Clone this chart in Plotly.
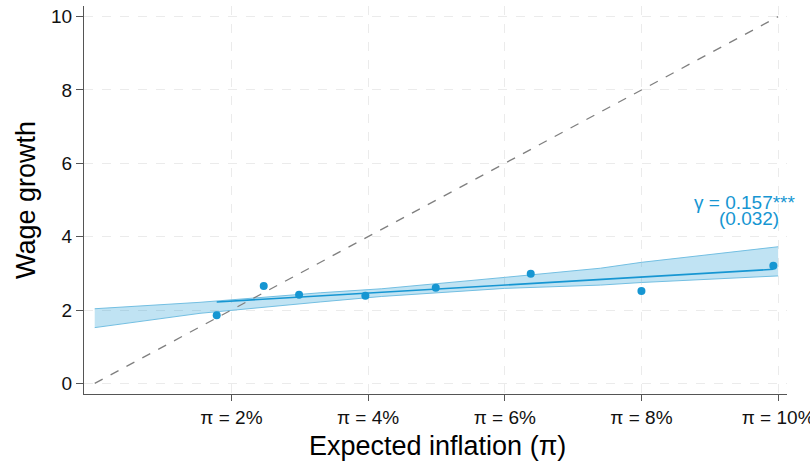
import plotly.graph_objects as go

# Binned scatter points
pts_x = [1.785, 2.473, 2.99, 3.96, 4.99, 6.38, 8.0, 9.93]
pts_y = [1.855, 2.653, 2.416, 2.39, 2.61, 2.99, 2.52, 3.21]

# Fitted line endpoints
fit_x = [1.785, 9.93]
fit_y = [2.22, 3.11]

# Confidence band
band_x = [0, 1.54, 3.3, 4.2, 6.0, 7.4, 8.0, 10]
band_hi = [2.035, 2.21, 2.47, 2.58, 2.89, 3.14, 3.30, 3.725]
band_lo = [1.52, 1.91, 2.22, 2.37, 2.59, 2.68, 2.75, 2.93]

# 45-degree reference
ref_x = [0, 10]
ref_y = [0, 10]

x_ticks = [2, 4, 6, 8, 10]
x_labels = ["π = 2%", "π = 4%", "π = 6%", "π = 8%", "π = 10%"]
y_ticks = [0, 2, 4, 6, 8, 10]

BLUE = "#1696d2"
FONT = "Liberation Sans, Arial, sans-serif"

fig = go.Figure()
fig.add_trace(go.Scatter(x=band_x, y=band_lo, mode="lines",
                         line=dict(color="#73bfe2", width=1), showlegend=False, hoverinfo="skip"))
fig.add_trace(go.Scatter(x=band_x, y=band_hi, mode="lines", fill="tonexty",
                         fillcolor="rgba(22,150,210,0.27)",
                         line=dict(color="#73bfe2", width=1), showlegend=False, hoverinfo="skip"))
fig.add_trace(go.Scatter(x=ref_x, y=ref_y, mode="lines",
                         line=dict(color="#7f7f7f", width=1.3, dash="dash"), showlegend=False))
fig.add_trace(go.Scatter(x=fit_x, y=fit_y, mode="lines",
                         line=dict(color=BLUE, width=1.6), showlegend=False))
fig.add_trace(go.Scatter(x=pts_x, y=pts_y, mode="markers",
                         marker=dict(color=BLUE, size=8), showlegend=False))

fig.update_layout(
    width=810, height=464,
    margin=dict(l=84, r=23, t=6, b=70, autoexpand=False),
    plot_bgcolor="white", paper_bgcolor="white",
    font=dict(family=FONT, color="#111111"),
    xaxis=dict(range=[-0.157, 10.13], tickvals=x_ticks, ticktext=x_labels,
               automargin=False, ticklabeloverflow="allow",
               showgrid=True, gridcolor="#ebebeb", griddash="dash", gridwidth=1,
               zeroline=False, showline=True, linecolor="#555555", linewidth=1.2,
               ticks="outside", ticklen=6, tickcolor="#555555",
               tickfont=dict(size=19, family=FONT, color="#111111")),
    yaxis=dict(range=[-0.29, 10.29], tickvals=y_ticks,
               automargin=False,
               showgrid=True, gridcolor="#ebebeb", griddash="dash", gridwidth=1,
               zeroline=False, showline=True, linecolor="#555555", linewidth=1.2,
               ticks="outside", ticklen=7, tickcolor="#555555",
               tickfont=dict(size=19, family=FONT, color="#111111")),
    annotations=[
        dict(text="Expected inflation (π)", xref="paper", yref="paper",
             x=0.503, y=-0.134, xanchor="center", yanchor="middle",
             showarrow=False, font=dict(size=27, family=FONT, color="#000000")),
        dict(text="Wage growth", xref="paper", yref="paper", textangle=-90,
             x=-0.0825, y=0.5, xanchor="center", yanchor="middle",
             showarrow=False, font=dict(size=27, family=FONT, color="#000000")),
        dict(text="γ = 0.157***", xref="paper", yref="paper",
             x=(797 - 84) / 703, y=(394 - 202) / 388, xanchor="right", yanchor="middle",
             showarrow=False, font=dict(size=19, family=FONT, color=BLUE)),
        dict(text="(0.032)", xref="paper", yref="paper",
             x=(781 - 84) / 703, y=(394 - 218) / 388, xanchor="right", yanchor="middle",
             showarrow=False, font=dict(size=19, family=FONT, color=BLUE)),
    ],
)

fig.write_html("out.html", config={"displayModeBar": False},
               post_script="document.body.style.margin='0';document.body.style.padding='0';")
